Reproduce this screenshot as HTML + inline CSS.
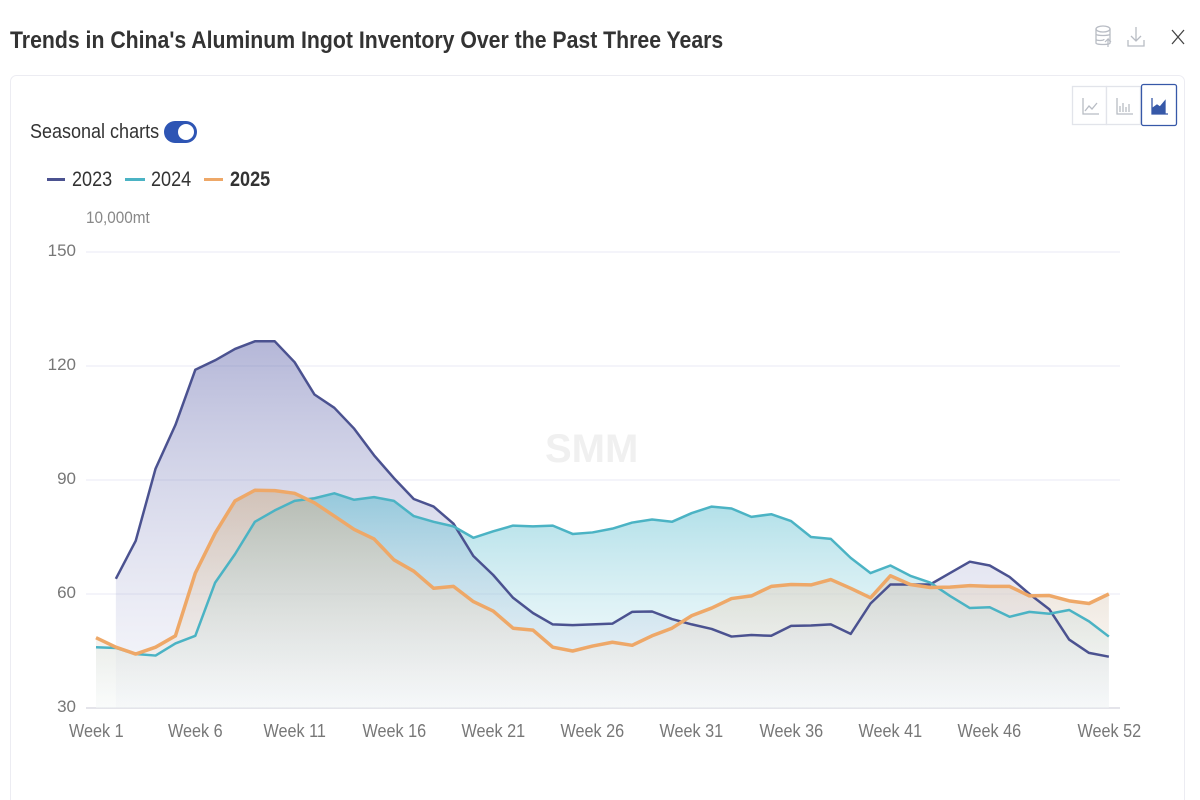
<!DOCTYPE html>
<html><head><meta charset="utf-8"><style>
html,body{margin:0;padding:0;background:#fff;width:1200px;height:800px;overflow:hidden;font-family:"Liberation Sans",sans-serif;}
.t{position:absolute;white-space:nowrap;transform-origin:0 0;}
</style></head><body>
<div class="t" style="left:10px;top:27px;font-size:24px;font-weight:bold;color:#333;transform:scaleX(0.885)">Trends in China's Aluminum Ingot Inventory Over the Past Three Years</div>
<svg width="1200" height="800" style="position:absolute;left:0;top:0" id="s">
<defs>
<linearGradient id="g1" x1="0" y1="0" x2="0" y2="1"><stop offset="0" stop-color="#5a5fa8" stop-opacity="0.45"/><stop offset="1" stop-color="#c8cce6" stop-opacity="0.15"/></linearGradient>
<linearGradient id="g2" x1="0" y1="0" x2="0" y2="1"><stop offset="0" stop-color="#45b4c9" stop-opacity="0.45"/><stop offset="1" stop-color="#d2eef3" stop-opacity="0.15"/></linearGradient>
<linearGradient id="g3" x1="0" y1="0" x2="0" y2="1"><stop offset="0" stop-color="#eea868" stop-opacity="0.35"/><stop offset="1" stop-color="#f4f0ea" stop-opacity="0.2"/></linearGradient>
<linearGradient id="gb" x1="0" y1="0" x2="0" y2="1"><stop offset="0" stop-color="#b8b8b0" stop-opacity="0.35"/><stop offset="1" stop-color="#ffffff" stop-opacity="0.3"/></linearGradient>
</defs>
<rect x="10.5" y="75.5" width="1174" height="740" rx="6" fill="none" stroke="#ececf2"/>
<g fill="none" stroke="#b8bcc4" stroke-width="1.3">
<rect x="1072.5" y="86.5" width="34" height="38" fill="#fff" stroke="#e2e4ea"/>
<rect x="1106.5" y="86.5" width="34" height="38" fill="#fff" stroke="#e2e4ea"/>
<rect x="1141.5" y="84.5" width="35" height="41" fill="#fff" stroke="#3658a8" rx="2"/>
<path d="M1083 98v16h16M1085 111l4-5 3 3 5-6"/>
<path d="M1117 98v16h16M1120 112v-6M1123 112v-9M1126 112v-5M1129 112v-8"/>
<path d="M1152 98v16h16" stroke="#3658a8"/>
<path d="M1153 113v-5l4-3 3 2 5-6v12z" fill="#3658a8" stroke="#3658a8"/>
<ellipse cx="1103" cy="29" rx="7" ry="3"/><path d="M1096 29v14c0 2 14 2 14 0V29M1096 34c0 2 14 2 14 0M1096 39c0 2 8 2 8 0"/><path d="M1108 47v-8l-3 3M1108 39l3 3" stroke-width="1.2"/>
<path d="M1136 27v14M1131 36l5 5 5-5M1128 40v6h16v-6"/>
<path d="M1172 30l12 14M1184 30l-12 14" stroke="#444"/>
</g>
<rect x="164" y="121" width="33" height="22" rx="11" fill="#2e55b4"/><circle cx="186" cy="132" r="8" fill="#fff"/>
<rect x="47" y="178" width="18" height="3" fill="#4b5290"/>
<rect x="125" y="178" width="20" height="3" fill="#4bb3c4"/>
<rect x="204" y="178" width="19" height="3" fill="#eea868"/>
<g id="grid"></g>
<g id="plot"></g>
<text x="545" y="462" font-size="40" font-weight="bold" fill="#f0f0f0" font-family="Liberation Sans">SMM</text>
</svg>
<div class="t" style="left:30px;top:121px;font-size:20px;color:#333;transform:scaleX(0.9)">Seasonal charts</div>
<div class="t" style="left:72px;top:168px;font-size:21px;color:#333;transform:scaleX(0.86)">2023</div>
<div class="t" style="left:151px;top:168px;font-size:21px;color:#333;transform:scaleX(0.86)">2024</div>
<div class="t" style="left:230px;top:168px;font-size:21px;color:#333;font-weight:bold;transform:scaleX(0.86)">2025</div>
<div class="t" style="left:86px;top:208px;font-size:17px;color:#888;transform:scaleX(0.9)">10,000mt</div>
<div id="lab"></div>
<script>
var d1=[null,64,74,93,104.5,119,121.5,124.5,126.5,126.5,121,112.5,109,103.5,96.5,90.5,85,83,78.5,70,65,59,55,52,51.8,52,52.2,55.3,55.4,53.4,52,50.8,48.8,49.2,49,51.6,51.7,52,49.5,57.5,62.5,62.5,62.5,65.5,68.5,67.5,64.5,60,56,48,44.5,43.5];
var d2=[46,45.8,44.2,43.8,47,49,63,70.5,79,82,84.5,85.2,86.5,84.8,85.5,84.5,80.5,79,77.8,74.8,76.5,78,77.8,78,75.8,76.2,77.2,78.8,79.6,79,81.3,83,82.5,80.3,81,79.2,75,74.5,69.5,65.5,67.5,64.8,63,59.5,56.3,56.5,54,55.3,54.8,55.8,52.8,48.8];
var d3=[48.5,46,44.2,46,49,65.5,76,84.5,87.3,87.2,86.5,84,80.5,77,74.5,69,66,61.5,62,58,55.5,51,50.5,46,45,46.3,47.3,46.5,49,51,54.3,56.3,58.8,59.5,62,62.5,62.4,63.8,61.5,59,64.8,62.5,61.7,61.8,62.2,62,62,59.5,59.6,58.2,57.5,60];
function X(i){return 96+i*19.86;}function Y(v){return 708-(v-30)*3.8;}
var g='',p='',l='';
[30,60,90,120,150].forEach(function(v){g+='<line x1="86" x2="1120" y1="'+Y(v)+'" y2="'+Y(v)+'" stroke="'+(v==30?'#c8cad4':'#e8eaf4')+'"/>';l+='<div class="t" style="left:40px;width:36px;text-align:right;top:'+(Y(v)-11)+'px;font-size:17px;color:#777">'+v+'</div>';});
[1,6,11,16,21,26,31,36,41,46,52].forEach(function(w){var x=X(w-1);l+='<div class="t" style="left:'+(x-40)+'px;width:80px;text-align:center;top:721px;font-size:18px;color:#777"><span style="display:inline-block;transform:scaleX(0.9)">Week '+w+'</span></div>';});
function pts(d){var a=[];d.forEach(function(v,i){if(v!=null)a.push([X(i),Y(v)]);});return a;}
function area(d,f){var a=pts(d);var s='M'+a[0][0]+','+Y(30);a.forEach(function(q){s+='L'+q[0]+','+q[1];});s+='L'+a[a.length-1][0]+','+Y(30)+'Z';return '<path d="'+s+'" fill="url(#'+f+')"/>';}
function line(d,c,w){var a=pts(d);return '<polyline points="'+a.map(function(q){return q.join(',')}).join(' ')+'" fill="none" stroke="'+c+'" stroke-width="'+w+'" stroke-linejoin="round"/>';}
p+=area(d1,'g1')+area(d2,'g2')+area(d3,'g3')+area(d3,'gb');
p+=line(d1,'#4b5290',2.5)+line(d2,'#4bb3c4',2.5)+line(d3,'#eea868',3.5);
document.getElementById('grid').innerHTML=g;document.getElementById('plot').innerHTML=p;document.getElementById('lab').innerHTML=l;
</script>
</body></html>
